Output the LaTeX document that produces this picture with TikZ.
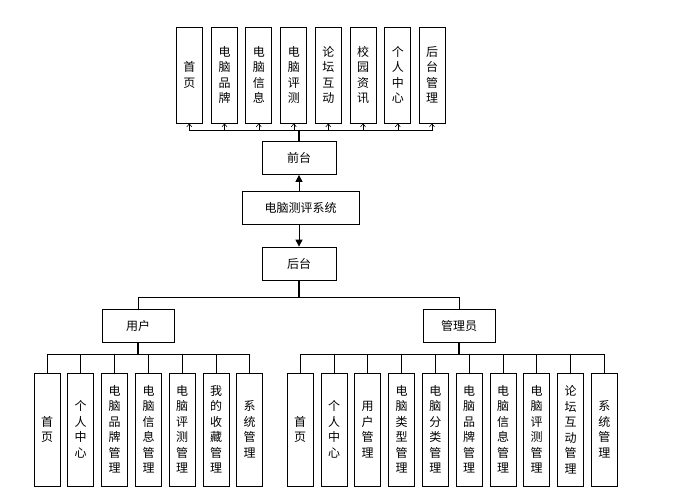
\documentclass[tikz,border=0pt]{standalone}
\usepackage{fontspec}
\setmainfont{Noto Sans CJK SC}
\usetikzlibrary{arrows.meta}

\begin{document}
\begin{tikzpicture}[x=1pt,y=-1pt]
\tikzstyle{every node}+=[inner sep=0pt,font=\fontsize{12}{15.5}\selectfont]
\tikzstyle{box}=[draw=black,line width=0.8pt,align=center]
\tikzstyle{tall}=[box,minimum width=26pt,minimum height=96pt]
\tikzstyle{low}=[box,minimum width=26pt,minimum height=113pt]
\tikzstyle{wide}=[box,minimum height=33pt]
\tikzstyle{link}=[black,line width=0.6pt]
\tikzstyle{trunk}=[black,line width=1.3pt]
\tikzstyle{smallarr}=[link,-{Straight Barb[length=3pt,width=5pt]}]
\tikzstyle{bigarr}=[black,line width=1pt,-{Triangle[length=7pt,width=7pt]}]
\useasboundingbox (0,0) rectangle (677,494);
% front pages
\node [tall] (t1) at (189.3,75) {首\\页};
\node [tall] (t2) at (224.5,75) {电\\脑\\品\\牌};
\node [tall] (t3) at (258.8,75) {电\\脑\\信\\息};
\node [tall] (t4) at (293.8,75) {电\\脑\\评\\测};
\node [tall] (t5) at (328.3,75) {论\\坛\\互\\动};
\node [tall] (t6) at (363,75) {校\\园\\资\\讯};
\node [tall] (t7) at (397.8,75) {个\\人\\中\\心};
\node [tall] (t8) at (432,75) {后\\台\\管\\理};
% middle column
\node [wide,minimum width=74pt] (qiantai) at (299,158) {前台};
\node [wide,minimum width=117pt] (system) at (300.5,208) {电脑测评系统};
\node [wide,minimum width=74pt] (houtai) at (299,263.5) {后台};
\node [wide,minimum width=72pt] (user) at (138,325.5) {用户};
\node [wide,minimum width=72pt] (admin) at (459,325.5) {管理员};
% user pages
\node [low] (u1) at (47,429.5) {首\\页};
\node [low] (u2) at (80.5,429.5) {个\\人\\中\\心};
\node [low] (u3) at (114.5,429.5) {电\\脑\\品\\牌\\管\\理};
\node [low] (u4) at (148.5,429.5) {电\\脑\\信\\息\\管\\理};
\node [low] (u5) at (182,429.5) {电\\脑\\评\\测\\管\\理};
\node [low] (u6) at (216,429.5) {我\\的\\收\\藏\\管\\理};
\node [low] (u7) at (249.5,429.5) {系\\统\\管\\理};
% admin pages
\node [low] (a1) at (300,429.5) {首\\页};
\node [low] (a2) at (334,429.5) {个\\人\\中\\心};
\node [low] (a3) at (367.7,429.5) {用\\户\\管\\理};
\node [low] (a4) at (401.5,429.5) {电\\脑\\类\\型\\管\\理};
\node [low] (a5) at (435.3,429.5) {电\\脑\\分\\类\\管\\理};
\node [low] (a6) at (469,429.5) {电\\脑\\品\\牌\\管\\理};
\node [low] (a7) at (503,429.5) {电\\脑\\信\\息\\管\\理};
\node [low] (a8) at (536.7,429.5) {电\\脑\\评\\测\\管\\理};
\node [low] (a9) at (570.5,429.5) {论\\坛\\互\\动\\管\\理};
\node [low] (a10) at (604.3,429.5) {系\\统\\管\\理};
% bus points
\coordinate (topbus) at (299,130);
\coordinate (midbus) at (299,297.5);
\coordinate (userbus) at (138,354);
\coordinate (adminbus) at (459,354);
% arrows in the middle
\draw [bigarr] (system.north -| qiantai) -- (qiantai.south);
\draw [bigarr] (system.south -| houtai) -- (houtai.north);
% front bus
\draw [trunk] (qiantai.north) -- (topbus);
\draw [smallarr] (topbus) -| (t1.south);
\draw [smallarr] (topbus) -| (t2.south);
\draw [smallarr] (topbus) -| (t3.south);
\draw [smallarr] (topbus) -| (t4.south);
\draw [smallarr] (topbus) -| (t5.south);
\draw [smallarr] (topbus) -| (t6.south);
\draw [smallarr] (topbus) -| (t7.south);
\draw [smallarr] (topbus) -| (t8.south);
% back bus
\draw [trunk] (houtai.south) -- (midbus);
\draw [link] (midbus) -| (user.north);
\draw [link] (midbus) -| (admin.north);
% user bus
\draw [trunk] (user.south) -- (userbus);
\draw [link] (userbus) -| (u1.north);
\draw [link] (userbus) -| (u2.north);
\draw [link] (userbus) -| (u3.north);
\draw [link] (userbus) -| (u4.north);
\draw [link] (userbus) -| (u5.north);
\draw [link] (userbus) -| (u6.north);
\draw [link] (userbus) -| (u7.north);
% admin bus
\draw [trunk] (admin.south) -- (adminbus);
\draw [link] (adminbus) -| (a1.north);
\draw [link] (adminbus) -| (a2.north);
\draw [link] (adminbus) -| (a3.north);
\draw [link] (adminbus) -| (a4.north);
\draw [link] (adminbus) -| (a5.north);
\draw [link] (adminbus) -| (a6.north);
\draw [link] (adminbus) -| (a7.north);
\draw [link] (adminbus) -| (a8.north);
\draw [link] (adminbus) -| (a9.north);
\draw [link] (adminbus) -| (a10.north);
\end{tikzpicture}
\end{document}
